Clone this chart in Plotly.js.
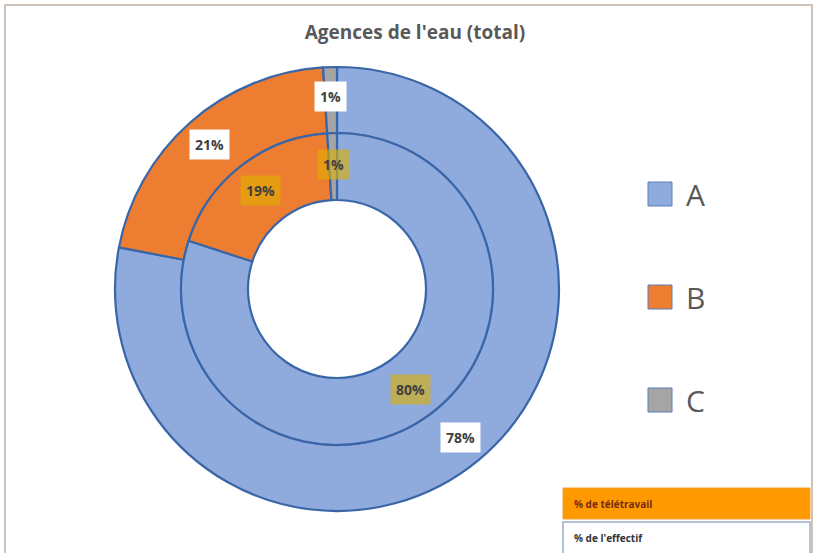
<!DOCTYPE html>
<html>
<head>
<meta charset="utf-8">
<script src="https://cdn.plot.ly/plotly-3.0.1.min.js"></script>
<style>html,body{margin:0;padding:0;background:#fff;}#chart{width:814px;height:553px;}</style>
</head>
<body>
<div id="chart"></div>
<script>
// ---- data ----
const categories = ["A", "B", "C"];
const effectif = [78, 21, 1];      // outer ring: % de l'effectif
const teletravail = [80, 19, 1];   // inner ring: % de télétravail
const sliceColors = ["#8FAADC", "#ED7D31", "#A5A5A5"];
const titleText = "Agences de l'eau (total)";
const ringNames = ["% de télétravail", "% de l'effectif"];

// ---- geometry (pixels) ----
const W = 814, H = 553;
const cx = 337, cy = 289, R = 222, Rmid = 156, Rhole = 89;

function domainFor(r) {
  return {
    x: [(cx - r) / W, (cx + r) / W],
    y: [1 - (cy + r) / H, 1 - (cy - r) / H]
  };
}

const lineStyle = {color: "#3A66A8", width: 2.2};

const outer = {
  type: "pie", labels: categories, values: effectif, name: ringNames[1],
  sort: false, direction: "clockwise", rotation: 0,
  hole: Rmid / R, domain: domainFor(R),
  marker: {colors: sliceColors, line: lineStyle},
  textinfo: "none", showlegend: false, hoverinfo: "label+percent+name"
};
const inner = {
  type: "pie", labels: categories, values: teletravail, name: ringNames[0],
  sort: false, direction: "clockwise", rotation: 0,
  hole: Rhole / Rmid, domain: domainFor(Rmid),
  marker: {colors: sliceColors, line: lineStyle},
  textinfo: "none", showlegend: false, hoverinfo: "label+percent+name"
};

const annotations = [];
function ringLabels(vals, r, bg, fg) {
  const tot = vals.reduce((a, b) => a + b, 0);
  let cum = 0;
  vals.forEach(v => {
    const th = (cum + v / 2) / tot * 2 * Math.PI;
    cum += v;
    const px = cx + r * Math.sin(th), py = cy - r * Math.cos(th);
    annotations.push({
      x: px / W, y: 1 - py / H, xref: "paper", yref: "paper",
      text: "<b>" + Math.round(v / tot * 100) + "%</b>", showarrow: false,
      font: {family: "Open Sans, sans-serif", size: 14, color: fg},
      bgcolor: bg, borderpad: 5, xanchor: "center", yanchor: "middle"
    });
  });
}
ringLabels(effectif, (R + Rmid) / 2 + 4, "#FFFFFF", "#404040");
ringLabels(teletravail, (Rmid + Rhole) / 2 + 2, "rgba(224,176,0,0.6)", "#404040");

// manual legend
const shapes = [];
const legY = [194, 297, 400];
categories.forEach((c, i) => {
  shapes.push({
    type: "rect", xref: "paper", yref: "paper",
    x0: 648 / W, x1: 672 / W, y0: 1 - (legY[i] + 12) / H, y1: 1 - (legY[i] - 12) / H,
    fillcolor: sliceColors[i], line: {color: "#5B7FB8", width: 1}
  });
  annotations.push({
    x: 684 / W, y: 1 - legY[i] / H, xref: "paper", yref: "paper",
    text: c, showarrow: false, xanchor: "left", yanchor: "middle",
    font: {family: "Open Sans, sans-serif", size: 30, color: "#595959"}
  });
});

// ring key boxes (bottom right)
shapes.push({type: "rect", xref: "paper", yref: "paper",
  x0: 563 / W, x1: 810 / W, y0: 1 - 519 / H, y1: 1 - 488 / H,
  fillcolor: "#FF9900", line: {color: "#F0A030", width: 1}});
shapes.push({type: "rect", xref: "paper", yref: "paper",
  x0: 563 / W, x1: 810 / W, y0: 1 - 556 / H, y1: 1 - 522 / H,
  fillcolor: "#FFFFFF", line: {color: "#9DAFC8", width: 1.5}});
annotations.push({x: 572 / W, y: 1 - 503.5 / H, xref: "paper", yref: "paper",
  text: "<b>" + ringNames[0] + "</b>", showarrow: false, xanchor: "left", yanchor: "middle",
  font: {family: "Open Sans, sans-serif", size: 10, color: "#7A2A10"}});
annotations.push({x: 572 / W, y: 1 - 538 / H, xref: "paper", yref: "paper",
  text: "<b>" + ringNames[1] + "</b>", showarrow: false, xanchor: "left", yanchor: "middle",
  font: {family: "Open Sans, sans-serif", size: 10, color: "#333333"}});

// chart frame
shapes.push({type: "rect", xref: "paper", yref: "paper", layer: "below",
  x0: 5 / W, x1: 812 / W, y0: -0.05, y1: 1 - 5 / H,
  fillcolor: "#FFFFFF", line: {color: "#BFAEA3", width: 1.5}});

const layout = {
  width: W, height: H,
  margin: {l: 0, r: 0, t: 0, b: 0},
  paper_bgcolor: "#FFFFFF",
  title: {text: "<b>" + titleText + "</b>", x: 415 / W, xanchor: "center",
    y: 1 - 32 / H, yanchor: "middle", yref: "container",
    font: {family: "Open Sans, sans-serif", size: 19, color: "#595959"}},
  showlegend: false,
  annotations: annotations,
  shapes: shapes
};

Plotly.newPlot("chart", [outer, inner], layout, {displayModeBar: false, staticPlot: true});
</script>
</body>
</html>
